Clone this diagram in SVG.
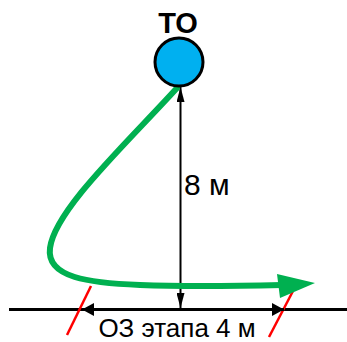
<svg xmlns="http://www.w3.org/2000/svg" width="347" height="342" viewBox="0 0 347 342">
<style>
.t{font-family:"Liberation Sans",Arial,sans-serif;fill:#000}
.blk{stroke:#000;fill:none}
.red{stroke:#FF0000;stroke-width:2.5;fill:none}
</style>
<defs>
<marker id="ah" viewBox="0 0 10 10" refX="10" refY="5" markerWidth="7.5" markerHeight="4" markerUnits="strokeWidth" orient="auto-start-reverse" preserveAspectRatio="none">
<path d="M0,0 L10,5 L0,10 z" fill="#000"/>
</marker>
<marker id="ah2" viewBox="0 0 10 10" refX="10" refY="5" markerWidth="4" markerHeight="4.3" markerUnits="strokeWidth" orient="auto-start-reverse" preserveAspectRatio="none">
<path d="M0,0 L10,5 L0,10 z" fill="#000"/>
</marker>
</defs>
<rect width="347" height="342" fill="#fff"/>
<g id="connectors">
<line class="blk" x1="9" y1="309.5" x2="347" y2="309.5" stroke-width="3"/>
<line class="red" x1="67" y1="335" x2="91" y2="286"/>
<line class="red" x1="269" y1="337" x2="293" y2="291"/>
<line class="blk" x1="82" y1="309.5" x2="284" y2="309.5" stroke-width="3" marker-start="url(#ah2)" marker-end="url(#ah2)"/>
<line class="blk" x1="180.5" y1="87" x2="180.5" y2="308" stroke-width="2" marker-start="url(#ah)" marker-end="url(#ah)"/>
<path d="M177,88 C125,145 55,210 50,248 C46,278 90,283 140,285 C190,287 240,286 282,285" fill="none" stroke="#00B050" stroke-width="6" stroke-linecap="round"/>
<path d="M277,274 L315,283 L280,298 z" fill="#00B050"/>
</g>
<g id="node-to">
<circle cx="179" cy="62" r="24" fill="#00B0F0" stroke="#000" stroke-width="3"/>
<text class="t" x="178" y="33" font-size="29" font-weight="bold" text-anchor="middle">ТО</text>
</g>
<g id="label-8m">
<text class="t" x="184" y="195" font-size="30">8 м</text>
</g>
<g id="label-oz">
<text class="t" x="177" y="337" font-size="26" text-anchor="middle">ОЗ этапа 4 м</text>
</g>
</svg>
